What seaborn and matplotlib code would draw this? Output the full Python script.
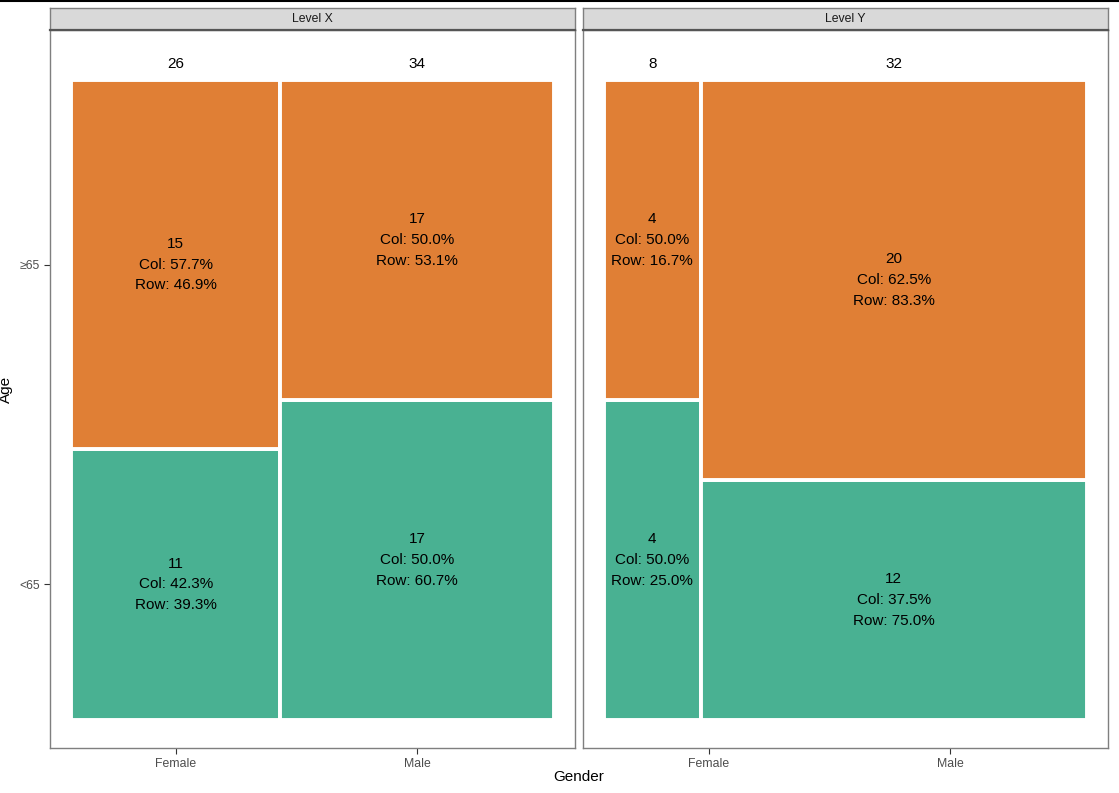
import numpy as np
import pandas as pd
import seaborn as sns
import matplotlib.pyplot as plt
from matplotlib.colors import to_rgba
from matplotlib.lines import Line2D

# данные: количество по уровням, полу и возрасту
levels = ["Level X", "Level Y"]
genders = ["Female", "Male"]
ages = ["<65", "≥65"]
# counts[level][gender] = [<65, ≥65]
counts = {
    "Level X": {"Female": [11, 15], "Male": [17, 17]},
    "Level Y": {"Female": [4, 4], "Male": [12, 20]},
}

rows = []
for lv in levels:
    for g in genders:
        for a, n in zip(ages, counts[lv][g]):
            rows.append({"level": lv, "gender": g, "age": a, "n": n})
df = pd.DataFrame(rows)

sns.set_theme(style="white")
plt.rcParams["font.family"] = ["Liberation Sans", "DejaVu Sans"]

palette = {"<65": to_rgba("#1B9E77", 0.8), "≥65": to_rgba("#D95F02", 0.8)}

fig = plt.figure(figsize=(11.19, 7.93), dpi=100)
W, H = 1119, 793

# позиции тиков берём из первой панели (общая шкала x)
first = df[df.level == levels[0]]
tot0 = first.n.sum()
g_tot0 = first.groupby("gender", sort=False).n.sum()
xt = []
left = 0
for g in genders:
    w = g_tot0[g] / tot0
    xt.append(left + w / 2)
    left += w
f0 = first[first.gender == genders[0]]
yt = []
bot = 0
for a in ages:
    h = f0[f0.age == a].n.iloc[0] / f0.n.sum()
    yt.append(bot + h / 2)
    bot += h

panels_x = [50, 583]
for i, lv in enumerate(levels):
    ax = fig.add_axes([panels_x[i] / W, 45 / H, 525 / W, 718 / H])
    sub = df[df.level == lv]
    total = sub.n.sum()
    g_tot = sub.groupby("gender", sort=False).n.sum()
    a_tot = sub.groupby("age", sort=False).n.sum()
    x0 = 0
    for g in genders:
        w = g_tot[g] / total
        y0 = 0
        for a in ages:
            n = sub[(sub.gender == g) & (sub.age == a)].n.iloc[0]
            h = n / g_tot[g]
            ax.bar(x0, h, width=w, bottom=y0, align="edge",
                   color=palette[a], edgecolor="white", linewidth=2.8)
            ax.text(x0 + w / 2, y0 + h / 2,
                    f"{n}\nCol: {n / g_tot[g] * 100:.1f}%\nRow: {n / a_tot[a] * 100:.1f}%",
                    ha="center", va="center", fontsize=11, color="black",
                    linespacing=1.62)
            y0 += h
        ax.text(x0 + w / 2, 1.025, str(g_tot[g]), ha="center", va="center",
                fontsize=11, color="black")
        x0 += w

    ax.set_xlim(-0.0435, 1.0435)
    ax.set_ylim(-0.044, 1.078)
    ax.set_xticks(xt)
    ax.set_xticklabels(genders)
    ax.set_yticks(yt)
    ax.tick_params(axis="both", bottom=True, left=True, labelsize=8.8,
                   labelcolor="#4D4D4D", color="#333333", length=4,
                   width=0.8, pad=3)
    if i == 0:
        ax.set_yticklabels(ages)
        ax.set_ylabel("Age", fontsize=11, color="black", labelpad=5)
    else:
        ax.set_yticklabels([])
        ax.tick_params(axis="y", length=0)
    for s in ax.spines.values():
        s.set_color("#7F7F7F")
        s.set_linewidth(1)
    ax.grid(False)

    # полоса фасета
    sax = fig.add_axes([panels_x[i] / W, (H - 30) / H, 525 / W, 22 / H])
    sax.set_facecolor("#D9D9D9")
    sax.set_xticks([])
    sax.set_yticks([])
    for s in sax.spines.values():
        s.set_color("#7F7F7F")
        s.set_linewidth(1)
    sax.spines["bottom"].set_color("#555555")
    sax.spines["bottom"].set_linewidth(1.6)
    sax.text(0.5, 0.5, lv, ha="center", va="center", fontsize=8.8,
             color="#1A1A1A", transform=sax.transAxes)

fig.text(579 / W, 1 - 777 / H, "Gender", ha="center", va="center",
         fontsize=11, color="black")
fig.add_artist(Line2D([0, 1], [1 - 1 / H, 1 - 1 / H], color="black",
                      linewidth=1.5, transform=fig.transFigure))

fig.savefig("out.png", dpi=100)
